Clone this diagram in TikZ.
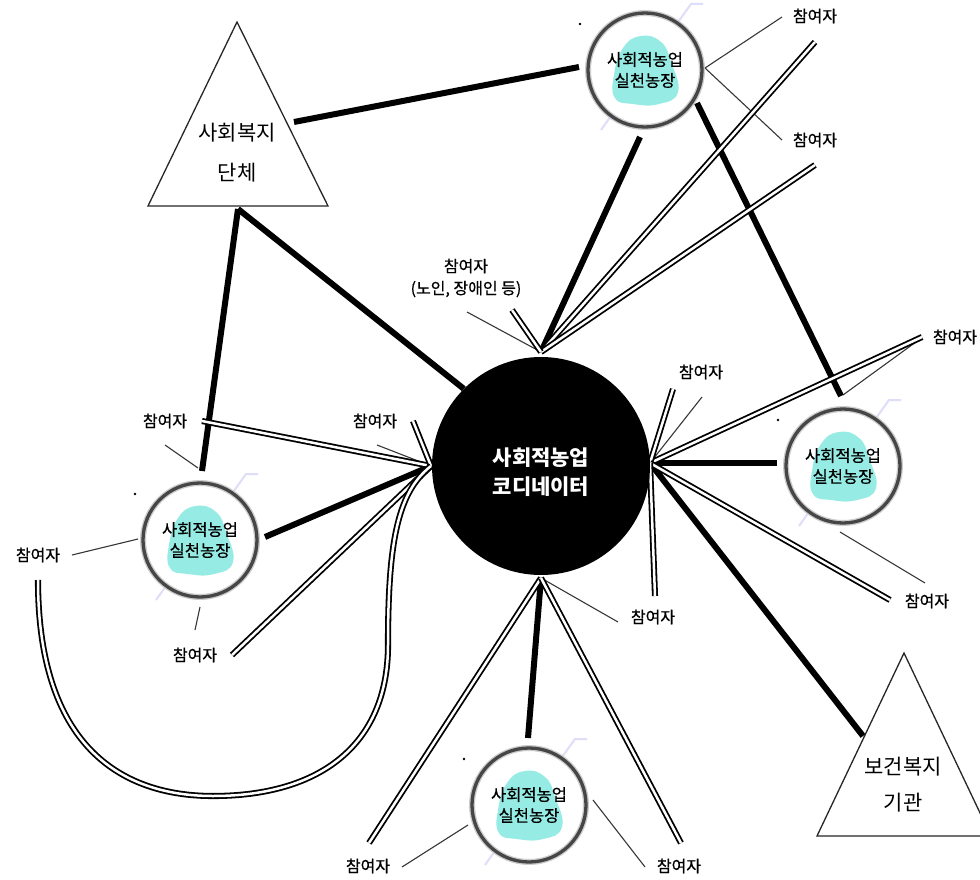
\documentclass[tikz,border=0pt]{standalone}
\usepackage{fontspec}
\newfontfamily\kr{Noto Sans CJK KR}
\newfontfamily\krm[FakeBold=0.6]{Noto Sans CJK KR}
\pgfdeclarelayer{background}
\pgfsetlayers{background,main}
\definecolor{blob}{RGB}{150,236,228}
\definecolor{ringc}{RGB}{70,70,70}
\definecolor{lav}{RGB}{222,222,250}
\definecolor{thinc}{RGB}{55,55,55}
\tikzset{
  heavy/.style={draw=black, line width=6pt},
  dbl/.style={draw=black, line width=1.8pt, double=white, double distance=2.5pt},
  thinln/.style={draw=thinc, line width=1.1pt},
  lbl/.style={font=\krm\fontsize{16}{22}\selectfont, inner sep=0pt, align=center},
  farmtxt/.style={circle, minimum size=114pt, inner sep=0pt, align=center, font=\krm\fontsize{16.5}{21}\selectfont},
  tritxt/.style={align=center, inner sep=0pt},
  tri/.style={draw=black!85, line width=1.3pt, fill=white}
}
\newcommand\farmnode[2]{%
  \begin{scope}[shift={#2}]
    \draw[lav, line width=2pt] (-44,60) -- (46,-66) -- (58,-66);
    \fill[black] (-65,-46) circle (1.3pt);
    \fill[white] (0,0) circle (58pt);
    \draw[gray!40, line width=6pt] (0,0) circle (57pt);
    \fill[blob] plot[smooth cycle, tension=0.8] coordinates {(-30,28) (-31,5) (-22,-22) (-4,-34) (16,-28) (26,-8) (33,22) (14,34) (-12,34)};
    \draw[ringc, line width=3.3pt] (0,0) circle (57pt);
    \node[farmtxt] (#1) at (0,0) {사회적농업\\실천농장};
  \end{scope}}
\begin{document}
\begin{tikzpicture}[x=1pt,y=-1pt]
\useasboundingbox (0,0) rectangle (980,880);

% triangles
\draw[tri] (237,22) -- (148,206) -- (328,206) -- cycle;
\node[tritxt, font=\kr\fontsize{21}{40}\selectfont] (welfareOrg) at (237,153) {사회복지\\단체};
\draw[tri] (904,653) -- (817,836) -- (991,836) -- cycle;
\node[tritxt, font=\kr\fontsize{21}{36}\selectfont] (healthOrg) at (903,785) {보건복지\\기관};

% coordinator
\node[circle, fill=black, minimum size=218pt, inner sep=0pt] (coord) at (541,466) {};
\node[text=white, align=center, font=\kr\bfseries\fontsize{21}{29}\selectfont] (coordtxt) at (541,472) {사회적농업\\코디네이터};

% farms
\farmnode{farmT}{(645,70)}
\farmnode{farmL}{(200,540)}
\farmnode{farmR}{(843,466)}
\farmnode{farmB}{(529,805)}

% labels
\node[lbl] (pTa) at (815,16) {참여자};
\node[lbl] (pTb) at (815,140) {참여자};
\node[lbl] (pElder) at (466,278) {참여자\\(노인, 장애인 등)};
\node[lbl] (pL1) at (165,421) {참여자};
\node[lbl] (pL2) at (375,421) {참여자};
\node[lbl] (pL3) at (38,555) {참여자};
\node[lbl] (pL4) at (195,655) {참여자};
\node[lbl] (pR1) at (701,372) {참여자};
\node[lbl] (pR2) at (955,337) {참여자};
\node[lbl] (pR3) at (927,601) {참여자};
\node[lbl] (pB1) at (653,617) {참여자};
\node[lbl] (pB2) at (368,866) {참여자};
\node[lbl] (pB3) at (679,866) {참여자};

% junctions and free ends
\coordinate (jT) at (541,352);
\coordinate (jL) at (431,466);
\coordinate (jR) at (650,463);
\coordinate (jB) at (541,578);
\coordinate (wR) at (294,122);
\coordinate (wB) at (238,209);
\coordinate (hL) at (863,736);
\coordinate (fTw) at (579,67);
\coordinate (fTs) at (640,137);
\coordinate (fTe) at (697,103);
\coordinate (fRn) at (841,396);
\coordinate (fLn) at (202,471);
\coordinate (fLe) at (265,537);
\coordinate (fRw) at (777,463);
\coordinate (fBn) at (528,738);
\coordinate (d1) at (815,42);
\coordinate (d2) at (815,165);
\coordinate (d3) at (512,310);
\coordinate (d4) at (202,421);
\coordinate (d5) at (413,421);
\coordinate (d6) at (232,655);
\coordinate (d7) at (38,580);
\coordinate (d8) at (922,337);
\coordinate (d9) at (673,389);
\coordinate (d10) at (890,600);
\coordinate (d11) at (655,596);
\coordinate (d12) at (369,843);
\coordinate (d13) at (681,843);
\coordinate (t1) at (467,312);
\coordinate (t2) at (377,445);
\coordinate (t3a) at (843,395);
\coordinate (t3b) at (920,339);
\coordinate (t4) at (702,397);
\coordinate (t5) at (618,622);
\coordinate (t6a) at (705,68);
\coordinate (t6b) at (782,17);
\coordinate (t7) at (782,140);
\coordinate (t8a) at (72,555);
\coordinate (t8b) at (138,539);
\coordinate (t9a) at (165,445);
\coordinate (t9b) at (198,468);
\coordinate (t10a) at (200,607);
\coordinate (t10b) at (195,630);
\coordinate (t11a) at (840,532);
\coordinate (t11b) at (925,583);
\coordinate (t12a) at (402,867);
\coordinate (t12b) at (468,825);
\coordinate (t13a) at (593,800);
\coordinate (t13b) at (645,867);

\begin{pgfonlayer}{background}
\fill[white] (0,0) rectangle (980,880);
% thin lines
\draw[thinln] (t1) -- (jT);
\draw[thinln] (t2) -- (jL);
\draw[thinln] (t3a) -- (t3b);
\draw[thinln] (t4) -- (jR);
\draw[thinln] (jB) -- (t5);
\draw[thinln] (t6b) -- (t6a) -- (t7);
\draw[thinln] (t8a) -- (t8b);
\draw[thinln] (t9a) -- (t9b);
\draw[thinln] (t10a) -- (t10b);
\draw[thinln] (t11a) -- (t11b);
\draw[thinln] (t12a) -- (t12b);
\draw[thinln] (t13a) -- (t13b);
% heavy lines
\draw[heavy] (wR) -- (fTw);
\draw[heavy] (wB) -- (coord.135);
\draw[heavy] (wB) -- (fLn);
\draw[heavy] (fTs) -- (jT);
\draw[heavy] (fTe) -- (fRn);
\draw[heavy] (fLe) -- (jL);
\draw[heavy] (jR) -- (fRw);
\draw[heavy] (jR) -- (hL);
\draw[heavy] (jB) -- (fBn);
% double lines
\draw[dbl] (jT) -- (d1);
\draw[dbl] (jT) -- (d2);
\draw[dbl] (d3) -- (jT);
\draw[dbl] (d4) -- (jL);
\draw[dbl] (d5) -- (jL);
\draw[dbl] (d6) -- (jL);
\draw[dbl] (d7) .. controls (38,745) and (120,796) .. (213,796)
  .. controls (320,796) and (388,745) .. (388,645)
  .. controls (388,540) and (398,492) .. (jL);
\draw[dbl] (jR) -- (d8);
\draw[dbl] (d9) -- (jR);
\draw[dbl] (jR) -- (d10);
\draw[dbl] (jR) -- (d11);
\draw[dbl] (jB) -- (d12);
\draw[dbl] (jB) -- (d13);
\end{pgfonlayer}
\end{tikzpicture}
\end{document}
